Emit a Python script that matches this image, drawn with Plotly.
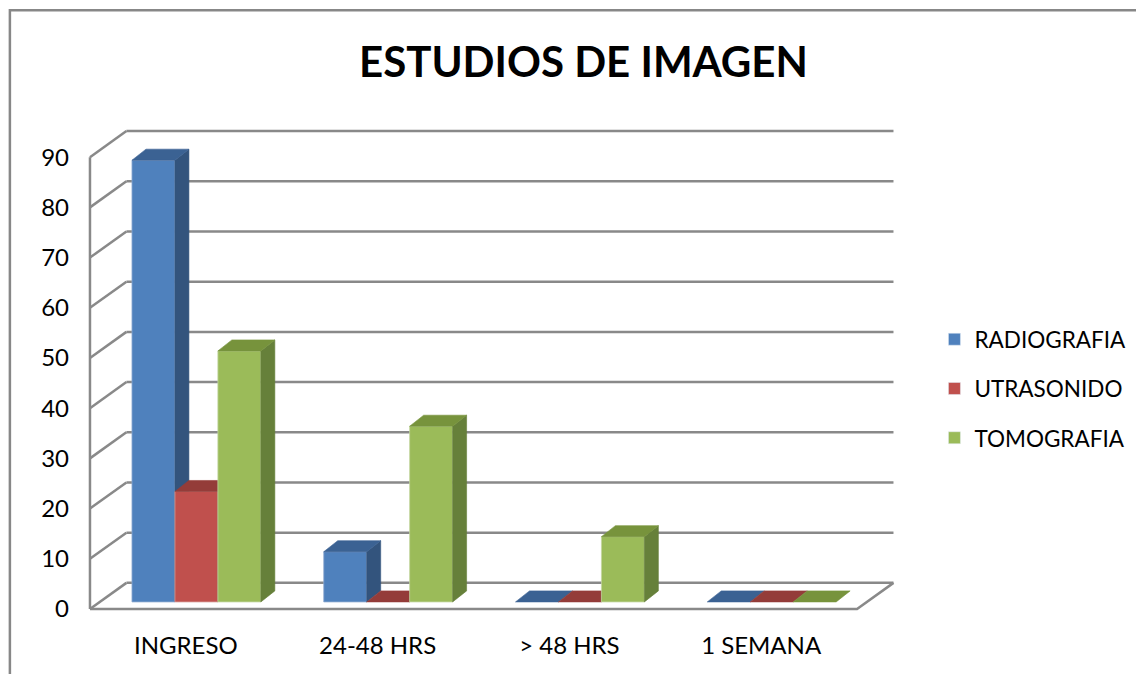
import plotly.graph_objects as go

# ---------------- data ----------------
categories = ["INGRESO", "24-48 HRS", "> 48 HRS", "1 SEMANA"]
series_names = ["RADIOGRAFIA", "UTRASONIDO", "TOMOGRAFIA"]
radiografia = [88, 10, 0, 0]
utrasonido = [22, 0, 0, 0]
tomografia = [50, 35, 13, 0]
y_ticks = [0, 10, 20, 30, 40, 50, 60, 70, 80, 90]
title_text = "ESTUDIOS DE IMAGEN"

series_values = [radiografia, utrasonido, tomografia]

# ---------------- styles ----------------
front_colors = ["#4F81BD", "#C0504D", "#9BBB59"]
top_colors = ["#3B6293", "#943C39", "#77933C"]
side_colors = ["#33547D", "#8A3735", "#66803A"]
edge_colors = ["#8FAAD0", "#D69A98", "#C3D69F"]
grid_color = "#898989"
FONT = "Lato, 'Open Sans', sans-serif"

# pseudo-3D geometry (axis units)
X_MIN, X_MAX = -0.5, 3.5
WALL_DX, WALL_DY = 0.19, 5.2
BAR_W = 0.224
GROUP_SHIFT = 0.055
BAR_BASE = 1.4
BAR_DX, BAR_DY = 0.073, 2.2

fig = go.Figure()

def poly(xs, ys, color, line_color=None, width=0.6):
    fig.add_trace(go.Scatter(
        x=xs + [xs[0]], y=ys + [ys[0]], mode="lines", fill="toself",
        fillcolor=color, line=dict(color=line_color or color, width=width),
        showlegend=False, hoverinfo="skip"))

grid_line = dict(color=grid_color, width=2.5)
# back wall gridlines and side wall diagonals
for v in y_ticks:
    fig.add_trace(go.Scatter(x=[X_MIN + WALL_DX, X_MAX + WALL_DX], y=[v + WALL_DY, v + WALL_DY],
                             mode="lines", line=grid_line, showlegend=False, hoverinfo="skip"))
    fig.add_trace(go.Scatter(x=[X_MIN, X_MIN + WALL_DX], y=[v, v + WALL_DY],
                             mode="lines", line=grid_line, showlegend=False, hoverinfo="skip"))
# front vertical axis
fig.add_trace(go.Scatter(x=[X_MIN, X_MIN], y=[y_ticks[0], y_ticks[-1]], mode="lines",
                         line=grid_line, showlegend=False, hoverinfo="skip"))
# floor front edge + right edge
fig.add_trace(go.Scatter(x=[X_MIN, X_MAX, X_MAX + WALL_DX], y=[0, 0, WALL_DY], mode="lines",
                         line=grid_line, showlegend=False, hoverinfo="skip"))

# bars
for i, cat in enumerate(categories):
    for s, vals in enumerate(series_values):
        v = vals[i]
        xl = i + GROUP_SHIFT + (s - 1.5) * BAR_W
        xr = xl + BAR_W
        b = BAR_BASE
        t = BAR_BASE + v
        if v > 0:
            poly([xl, xr, xr, xl], [b, b, t, t], front_colors[s], edge_colors[s], 0.8)
            poly([xr, xr + BAR_DX, xr + BAR_DX, xr], [b, b + BAR_DY, t + BAR_DY, t], side_colors[s])
        poly([xl, xl + BAR_DX, xr + BAR_DX, xr], [t, t + BAR_DY, t + BAR_DY, t], top_colors[s])

# legend entries
for s, name in enumerate(series_names):
    fig.add_trace(go.Bar(x=[None], y=[None], name=name, marker_color=front_colors[s],
                         legendgroup=name))

fig.update_layout(
    width=1144, height=674,
    margin=dict(l=72, r=252, t=99, b=63),
    paper_bgcolor="white", plot_bgcolor="white",
    font=dict(family=FONT, color="#000000", size=22),
    title=dict(text=title_text, x=0.503, xanchor="center", y=0.92, yanchor="middle",
               font=dict(family=FONT, size=42, color="#000000", weight="bold")),
    xaxis=dict(range=[-0.552, 3.724], tickmode="array", tickvals=list(range(len(categories))),
               ticktext=categories, showgrid=False, zeroline=False, showline=False,
               ticks="", tickfont=dict(size=24), ticklabelstandoff=10, fixedrange=True),
    yaxis=dict(range=[-2, 100], tickmode="array", tickvals=y_ticks, showgrid=False,
               zeroline=False, showline=False, ticks="", tickfont=dict(size=24),
               ticklabelstandoff=10, fixedrange=True),
    legend=dict(x=1.042, xanchor="left", y=0.45, yanchor="middle", font=dict(size=22.5),
                tracegroupgap=17, bgcolor="rgba(0,0,0,0)"),
    showlegend=True,
    shapes=[dict(type="rect", xref="paper", yref="paper", x0=-0.0855, x1=1.5, y0=-0.4, y1=1.189,
                 line=dict(color="#878787", width=2.5), fillcolor="rgba(0,0,0,0)", layer="above")],
)

fig.write_html("out.html")
